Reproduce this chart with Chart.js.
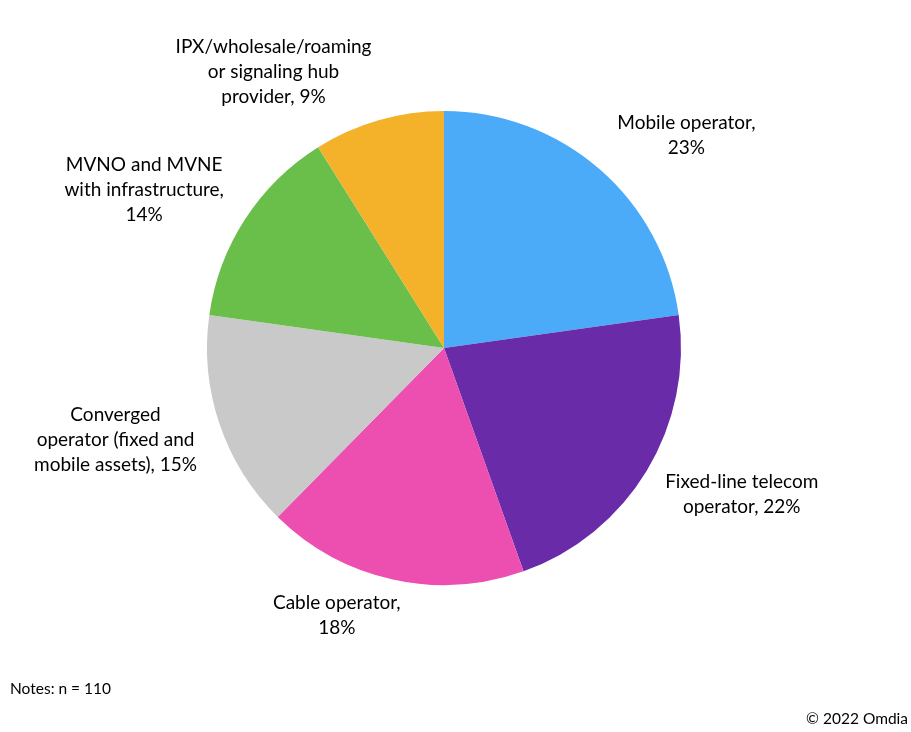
<!DOCTYPE html>
<html>
<head>
<meta charset="utf-8">
<script src="https://cdn.jsdelivr.net/npm/chart.js@4"></script>
<style>
  html, body { margin: 0; padding: 0; background: #fff; }
  #wrap { position: relative; width: 911px; height: 732px; }
</style>
</head>
<body>
<div id="wrap"><canvas id="pieChart" width="911" height="732"></canvas></div>
<script>
// data
const categories = [
  'Mobile operator',
  'Fixed-line telecom operator',
  'Cable operator',
  'Converged operator (fixed and mobile assets)',
  'MVNO and MVNE with infrastructure',
  'IPX/wholesale/roaming or signaling hub provider'
];
const shares = [23, 22, 18, 15, 14, 9];
const labelLines = [
  ['Mobile operator,', '23%'],
  ['Fixed-line telecom', 'operator, 22%'],
  ['Cable operator,', '18%'],
  ['Converged', 'operator (fixed and', 'mobile assets), 15%'],
  ['MVNO and MVNE', 'with infrastructure,', '14%'],
  ['IPX/wholesale/roaming', 'or signaling hub', 'provider, 9%']
];
const colors = ['#4BABF8', '#6A2BA8', '#EC4FAF', '#C9C9C9', '#6ABF4B', '#F4B12A'];

// label offsets from the slice's outer edge at its mid-angle (layout only)
const labelOffsets = [[87, -34], [95, 24], [-56, 36], [-104, 16], [-101, -29], [-105, -48]];

const FONT = '"Lato", "Liberation Sans", sans-serif';

const outsideLabels = {
  id: 'outsideLabels',
  afterDatasetsDraw(chart) {
    const ctx = chart.ctx;
    const arcs = chart.getDatasetMeta(0).data;
    ctx.save();
    ctx.fillStyle = '#000';
    ctx.font = '19px ' + FONT;
    ctx.textAlign = 'center';
    ctx.textBaseline = 'middle';
    arcs.forEach((arc, i) => {
      const { x, y, startAngle, endAngle, outerRadius } = arc.getProps(['x', 'y', 'startAngle', 'endAngle', 'outerRadius'], true);
      const mid = (startAngle + endAngle) / 2;
      const ax = x + Math.cos(mid) * outerRadius + labelOffsets[i][0];
      const ay = y + Math.sin(mid) * outerRadius + labelOffsets[i][1];
      const lines = labelLines[i];
      const lh = 25;
      lines.forEach((t, k) => {
        ctx.fillText(t, ax, ay + (k - (lines.length - 1) / 2) * lh);
      });
    });
    // notes and source
    ctx.font = '15.5px ' + FONT;
    ctx.textAlign = 'left';
    ctx.fillText('Notes: n = 110', 10, 689);
    ctx.textAlign = 'right';
    ctx.fillText('\u00A9 2022 Omdia', 908, 719);
    ctx.restore();
  }
};

const ctx = document.getElementById('pieChart').getContext('2d');
const chart = new Chart(ctx, {
  type: 'pie',
  data: {
    labels: categories,
    datasets: [{
      data: shares,
      backgroundColor: colors,
      borderWidth: 0,
      hoverOffset: 0,
      offset: 0
    }]
  },
  options: {
    responsive: false,
    animation: false,
    layout: { padding: { left: 207, right: 230, top: 111, bottom: 147 } },
    plugins: {
      legend: { display: false },
      tooltip: { enabled: false }
    }
  },
  plugins: [outsideLabels]
});
</script>
</body>
</html>
